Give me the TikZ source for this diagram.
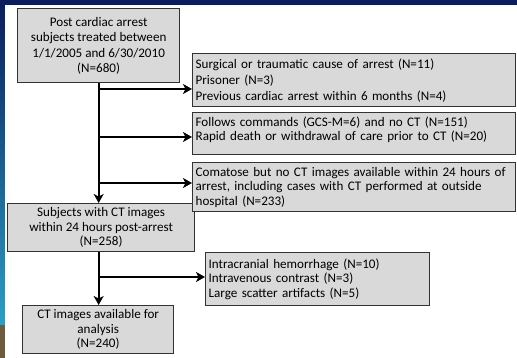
\documentclass[tikz,border=0pt]{standalone}
\usepackage{fontspec}
\setmainfont{Carlito}
\usepackage{tikz}
\usetikzlibrary{arrows.meta}
\definecolor{boxgray}{HTML}{D9D9D9}
\definecolor{slideblue}{HTML}{0B1E5B}
\definecolor{stripcyan}{HTML}{2A9FC4}
\definecolor{stripbrown}{HTML}{6E5A3C}
\tikzset{
	flowbox/.style={draw=black!80, line width=1.3pt, fill=boxgray, inner xsep=3pt, inner ysep=2pt,
		anchor=north west, text=black, font=\fontsize{13.1}{14.5}\selectfont},
	mainbox/.style={flowbox, align=center},
	sidebox/.style={flowbox, align=left},
	arr/.style={line width=1.8pt, -{Stealth[length=9pt,width=10pt,inset=2.5pt]}}
}

\begin{document}
\begin{tikzpicture}[x=1pt,y=-1pt]
	\useasboundingbox (0,0) rectangle (517,358);
	%slide background
	\fill[slideblue] (0,0) rectangle (517,358);
	\shade[top color=slideblue, bottom color=stripcyan] (0,5) rectangle (5,325);
	\fill[stripbrown] (0,325) rectangle (5,358);
	\fill[white] (5,5) rectangle (517,358);
	
	%main column
	\node[mainbox, minimum width=162, minimum height=74, font=\fontsize{13.1}{15.5}\selectfont] (start) at (17,8)
		{Post cardiac arrest\\subjects treated between\\1/1/2005 and 6/30/2010\\(N=680)};
	\node[mainbox, minimum width=187, minimum height=48] (subj) at (7,203)
		{Subjects with CT images\\within 24 hours post-arrest\\(N=258)};
	\node[mainbox, minimum width=151, minimum height=48] (final) at (22,305)
		{CT images available for\\analysis\\(N=240)};
	
	%exclusions
	\node[sidebox, minimum width=323, text width=317, minimum height=53, font=\fontsize{13.1}{16}\selectfont] (excla) at (192,53)
		{Surgical or traumatic cause of arrest (N=11)\\Prisoner (N=3)\\Previous cardiac arrest within 6 months (N=4)};
	\node[sidebox, minimum width=323, text width=317, minimum height=42] (exclb) at (192,112)
		{Follows commands (GCS-M=6) and no CT (N=151)\\Rapid death or withdrawal of care prior to CT (N=20)\\[-5pt]\mbox{}};
	\node[sidebox, minimum width=323, text width=317, minimum height=49] (exclc) at (192,162)
		{Comatose but no CT images available within 24 hours of\\arrest, including cases with CT performed at outside\\hospital (N=233)};
	\node[sidebox, minimum width=224, text width=218, minimum height=53] (excld) at (205,252)
		{Intracranial hemorrhage (N=10)\\Intravenous contrast (N=3)\\Large scatter artifacts (N=5)};
	
	%trunk
	\draw[arr] (start.south) -- (start.south |- subj.north);
	\draw[arr] (start.south |- subj.south) -- (start.south |- final.north);
	
	%branches
	\coordinate (ja) at (start.south |- 0,89);
	\coordinate (jb) at (start.south |- 0,137);
	\coordinate (jc) at (start.south |- 0,183);
	\coordinate (jd) at (start.south |- 0,277);
	\draw[arr] (ja) -- (ja -| excla.west);
	\draw[arr] (jb) -- (jb -| exclb.west);
	\draw[arr] (jc) -- (jc -| exclc.west);
	\draw[arr] (jd) -- (jd -| excld.west);
\end{tikzpicture}
\end{document}
